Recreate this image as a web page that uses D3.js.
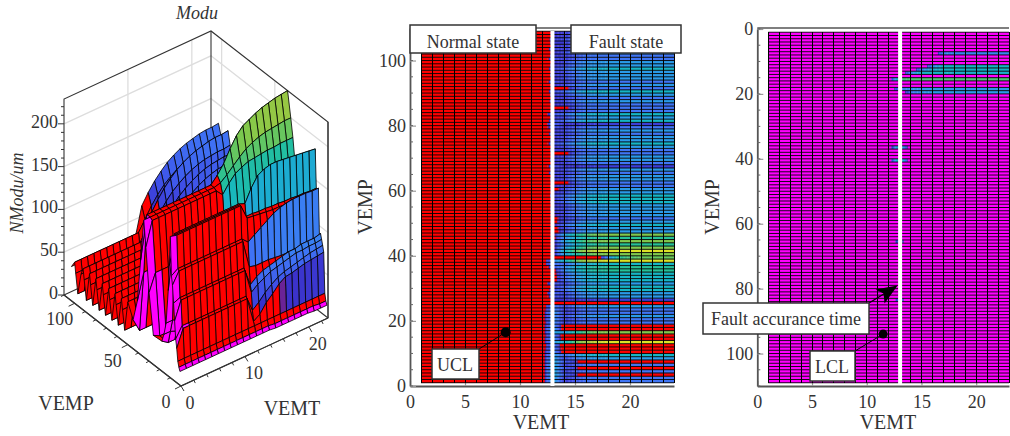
<!DOCTYPE html>
<html>
<head>
<meta charset="utf-8">
<script src="https://cdn.jsdelivr.net/npm/d3@7"></script>
<style>
  body { margin: 0; background: #fff; }
  svg { display: block; font-family: "Liberation Serif", serif; }
  text { fill: #333; }
</style>
</head>
<body>
<div id="chart"></div>
<script>
// ---- colour stops, shared by all three panels
const colorDomain = [0, 8, 10, 42, 45, 60, 80, 105, 135, 165, 195, 225, 250];
const colorRange = ["#ff00ff", "#ff00ff", "#ff0000", "#ff0000", "#3a2fc8", "#3f50e8", "#3f75f5", "#2a9ae8", "#15b5c5", "#25c098", "#78c850", "#a8c83c", "#e8e820"];

// ---- middle panel: one value per column for every kind of row
const vemtMid = [1,2,3,4,5,6,7,8,9,10,11,12,13,14,15,16,17,18,19,20,21,22,23,24];
const midA = [20,20,20,20,20,20,20,20,20,20,20,20,45,50,62,78,80,80,80,80,80,80,80,80];
const midB = [20,20,20,20,20,20,20,20,20,20,20,20,45,55,80,98,102,105,105,105,105,105,105,105];
const midC = [20,20,20,20,20,20,20,20,20,20,20,20,45,70,100,125,132,135,135,135,135,135,135,135];
const midD = [20,20,20,20,20,20,20,20,20,20,20,20,60,90,125,150,160,165,165,165,165,165,165,165];
const midE = [20,20,20,20,20,20,20,20,20,20,20,20,70,110,150,180,195,200,200,200,200,200,200,200];
const midF = [20,20,20,20,20,20,20,20,20,20,20,20,70,130,180,220,235,245,245,245,245,245,245,245];
const midK = [20,20,20,20,20,20,20,20,20,20,20,20,45,46,48,50,52,52,52,52,52,52,52,52];
const midM = [20,20,20,20,20,20,20,20,20,20,20,20,60,62,50,20,20,20,20,20,20,20,20,20];
const midR = [20,20,20,20,20,20,20,20,20,20,20,20,20,20,20,20,20,20,20,20,20,20,20,20];
const midT = [20,20,20,20,20,20,20,20,20,20,20,20,20,30,62,78,80,80,80,80,80,80,80,80];
const midU = [20,20,20,20,20,20,20,20,20,20,20,20,20,20,20,20,20,90,165,180,190,190,190,190];
const midKinds = {a: midA, b: midB, c: midC, d: midD, e: midE, f: midF, k: midK, m: midM, r: midR, t: midT, u: midU};

// row 1 first, up to row 109
const midRowKinds = ("aamamambcr" + "rrfrrerraa" + "baabrkbbcc" + "bcccddcfue" + "fededebbcb" +
                     "abbbbcccbb" + "atbbabkabb" + "tabcbbabak" + "cbcatababc" + "tbabbbcbba" + "abaaabaaa").split("");
// value just before the white line, this makes the wavy red edge
const midEdge = [120,125,130,130,125,130,125,120,110,100,95,90,100,105,95,110,115,100,95,105,
                 100,110,95,90,30,46,60,70,55,48,65,30,30,32,30,60,80,90,30,35,
                 38,30,36,40,32,36,30,34,40,36,38,42,46,50,44,48,42,52,46,30,
                 48,30,50,44,56,48,60,46,52,44,30,50,46,60,50,44,56,48,62,70,
                 58,50,64,48,30,46,54,46,50,58,30,48,60,46,52,48,56,50,46,60,
                 52,48,56,46,50,54,46,48,50];

// ---- right panel: all magenta except a few rows
const vemtRight = [1,2,3,4,5,6,7,8,9,10,11,12,13,14,15,16,17,18,19,20,21,22,23];
const rightFlat = [0,0,0,0,0,0,0,0,0,0,0,0,0,0,0,0,0,0,0,0,0,0,0];
const rightRows = [7, 11, 12, 13, 15, 18, 19, 36, 40, 65, 83];
const rightValues = [
  [0,0,0,0,0,0,0,0,0,0,0,0,0,0,0,0,85,90,90,90,90,90,90],
  [0,0,0,0,0,0,0,0,0,0,0,0,0,0,0,90,135,135,135,135,135,135,135],
  [0,0,0,0,0,0,0,0,0,0,0,0,0,0,90,125,135,135,135,135,135,135,135],
  [0,0,0,0,0,0,0,0,0,0,0,0,0,90,135,135,135,130,130,130,130,130,130],
  [0,0,0,0,0,0,0,0,0,0,0,0,175,180,180,180,180,180,180,180,180,180,180],
  [0,0,0,0,0,0,0,0,0,0,0,0,80,100,105,105,105,105,105,105,105,105,105],
  [0,0,0,0,0,0,0,0,0,0,0,0,0,80,100,105,105,105,105,105,105,105,105],
  [0,0,0,0,0,0,0,0,0,0,0,0,150,0,0,0,0,0,0,0,0,0,0],
  [0,0,0,0,0,0,0,0,0,0,0,0,170,0,0,0,0,0,0,0,0,0,0],
  [0,0,0,0,0,0,0,0,0,0,0,0,70,0,0,0,0,0,0,0,0,0,0],
  [0,0,0,0,0,0,0,0,0,0,0,0,70,0,0,0,0,0,0,0,0,0,0]
];

// ---- left panel: surface heights, row by row (VEMT 0..23)
const zFront1 = [16,16,16,16,16,16,16,16,16,16,16,16,16,16,16,15,15,15,15,15,15,14,14,14];
const zFront2 = [20,20,20,20,20,20,20,20,20,20,20,20,20,20,20,19,19,19,19,19,19,19,18,18];
const zFront3 = [26,26,26,26,26,26,26,26,26,26,26,26,26,26,26,26,26,26,26,26,26,26,26,26];
const zStep4 = [40,60,60,60,60,60,60,60,60,60,60,60,30,35,45,52,60,65,66,68,70,71,72,73];
const zStep5 = [50,62,62,62,62,62,62,62,62,62,62,62,42,48,56,62,67,70,72,74,76,78,79,80];
const zStep6 = [70,91,91,91,91,91,91,91,91,91,91,91,62,68,72,76,78,80,82,84,84,85,85,86];
const zStep7 = [90,93,93,93,93,93,93,93,93,93,93,93,70,76,80,82,84,86,88,88,90,90,90,92];
const zStep8 = [110,123,123,123,123,123,123,123,123,123,123,123,90,88,88,88,87,86,86,86,85,85,85,85];
const zStep9 = [120,125,125,125,125,125,125,125,125,125,125,125,118,123,128,133,138,141,143,144,144,144,143,143];
const zRidge10 = [165,163,163,163,163,163,163,163,163,163,163,163,145,144,143,142,141,141,140,140,140,140,140,140];
const zRidge11 = [130,163,163,163,163,163,163,163,163,163,163,163,146,146,145,145,144,144,143,143,142,142,141,141];
const zRidge12 = [100,163,163,163,163,163,163,163,163,163,163,163,160,175,186,190,192,192,191,190,189,188,187,186];
const zFall14 = [60,60,58,58,58,58,58,58,58,58,58,58,100,120,130,135,138,138,138,138,138,138,138,138];
const zFall16 = [45,45,42,42,42,42,42,42,42,42,42,42,80,100,110,116,118,120,120,120,120,120,120,120];
const zValley18 = [35,30,30,30,30,30,30,30,30,30,30,30,60,80,90,96,100,102,102,102,102,102,102,102];
const zValley26 = [34,30,30,30,30,30,30,30,30,30,30,30,70,90,100,105,110,112,112,112,112,112,112,112];
const zRise30 = [80,100,100,100,100,100,100,100,100,100,100,100,100,115,125,130,134,136,138,138,138,138,138,138];
const zRidge33 = [130,158,158,158,158,158,158,158,158,158,158,158,150,160,168,172,175,176,177,178,178,179,179,179];
const zRidge35 = [160,160,160,160,160,160,160,160,160,160,160,160,162,168,175,182,188,192,195,197,198,199,200,200];
const zRidge38 = [110,160,160,160,160,160,160,160,160,160,160,160,168,178,192,204,212,216,220,223,225,227,228,229];
const zDrop41 = [60,90,90,90,90,90,90,90,90,90,90,90,90,100,108,114,118,121,123,125,126,127,128,128];
const zValley45 = [34,18,18,18,18,18,18,18,18,18,18,18,50,62,72,80,85,90,92,94,95,96,96,96];
const zRidge50 = [50,50,50,50,50,50,50,50,50,50,50,50,68,80,90,98,105,110,113,115,117,118,119,120];
const zValley = [14,14,14,14,14,14,14,14,14,14,14,30,40,50,58,65,70,74,77,79,80,81,81,82];
const zMid = [36,36,36,36,36,36,36,36,36,36,36,48,58,68,76,82,88,91,94,96,97,98,98,99];
const zRidge = [48,48,48,48,48,48,48,48,48,48,48,60,72,82,90,96,101,105,108,110,111,112,112,113];
const zRidgeBlue = [40,40,40,40,40,40,40,40,40,40,40,73,85,95,103,110,115,119,122,124,126,127,127,128];

const surfaceV = [1,2,3,4,5,6,7,8,9,10,11,12,14,16,18,26,30,33,35,38,41,45,50,53,55,56,59,61,62,65,67,68,71,73,74,77,79,80,83,85,86,89,91,92,94,97,99,100,103];
const surfaceZ = [zFront1,zFront2,zFront3,zStep4,zStep5,zStep6,zStep7,zStep8,zStep9,zRidge10,zRidge11,zRidge12,zFall14,zFall16,zValley18,zValley26,zRise30,zRidge33,zRidge35,zRidge38,zDrop41,zValley45,zRidge50,
  zValley,zMid,zRidge,zValley,zMid,zRidge,zValley,zMid,zRidge,zValley,zMid,zRidge,zValley,zMid,zRidge,zValley,zMid,zRidge,zValley,zMid,zRidge,zRidgeBlue,zValley,zMid,zRidge,zRidgeBlue];
const redTailRows = [3, 8, 10, 11];
const coolRows = [9, 10, 11, 12];
const spikeRows = [4, 5, 6, 7, 8, 9, 10, 11, 12, 14, 16, 26, 30, 33, 35, 38, 41];

// ---- axis ticks
const midYTicks = [0,20,40,60,80,100];
const rightYTicks = [0,20,40,60,80,100];
const heatXTicks = [0,5,10,15,20];
const zTicks = [0,50,100,150,200];
const uclPoint = [8.7, 16.5];
const lclPoint = [11.5, 94];
const arrowTip = [13, 79];

let svg = d3.select("#chart").append("svg").attr("width", 1010).attr("height", 436);
let color = d3.scaleLinear().domain(colorDomain).range(colorRange).clamp(true);
// right panel never passes through the red part of the map
let colorRight = v => v < 42 ? "#ff00ff" : color(v);

// one row of the heatmap, shaded between columns, neighbours of same colour get merged
function rowRuns(values, xs, x, colorOf) {
  let runs = [];
  for (let i = 0; i < values.length - 1; i++) {
    let shade = d3.interpolateNumber(values[i], values[i + 1]);
    let steps = values[i] == values[i + 1] ? 1 : 8;
    for (let s = 0; s < steps; s++) {
      let c = colorOf(shade((s + 0.5) / steps));
      let x0 = x(xs[i]) + (x(xs[i + 1]) - x(xs[i])) * s / steps;
      let x1 = x(xs[i]) + (x(xs[i + 1]) - x(xs[i])) * (s + 1) / steps;
      if (runs.length && runs[runs.length - 1].c == c) runs[runs.length - 1].x1 = x1;
      else runs.push({x0: x0, x1: x1, c: c});
    }
  }
  return runs;
}

function heatmap(g, rows, xs, x, y, colorOf) {
  rows.forEach(function (row) {
    if (row.r >= 109) return;
    g.append("g").selectAll("rect").data(rowRuns(row.values, xs, x, colorOf)).enter().append("rect")
      .attr("x", d => d.x0)
      .attr("width", d => d.x1 - d.x0 + 0.3)
      .attr("y", Math.min(y(row.r), y(row.r + 1)))
      .attr("height", Math.abs(y(row.r + 1) - y(row.r)) + 0.2)
      .attr("fill", d => d.c);
  });
  // mesh lines
  g.append("g").selectAll("line").data(rows).enter().append("line")
    .attr("x1", x(xs[0])).attr("x2", x(xs[xs.length - 1]))
    .attr("y1", d => y(d.r)).attr("y2", d => y(d.r))
    .attr("stroke", "#000").attr("stroke-width", 0.9);
  g.append("g").attr("shape-rendering", "crispEdges").selectAll("line").data(xs).enter().append("line")
    .attr("x1", d => x(d)).attr("x2", d => x(d))
    .attr("y1", y(rows[0].r)).attr("y2", y(rows[rows.length - 1].r))
    .attr("stroke", "#000").attr("stroke-width", 1);
}

function axes(x, y, yTicks, top, titleX, titleY) {
  let xAxis = svg.append("g").attr("transform", "translate(0," + 386 + ")")
    .call(d3.axisBottom(x).tickValues(heatXTicks).tickSize(-5).tickSizeOuter(0).tickPadding(9));
  let yAxis = svg.append("g").attr("transform", "translate(" + x(0) + ",0)")
    .call(d3.axisLeft(y).tickValues(yTicks).tickSize(-6).tickSizeOuter(0).tickPadding(4));
  // minor ticks
  svg.append("g").selectAll("line").data(d3.ticks(y.domain()[0], y.domain()[1], 22)).enter().append("line")
    .attr("x1", x(0)).attr("x2", x(0) + 3)
    .attr("y1", d => y(d)).attr("y2", d => y(d))
    .attr("stroke", "#666");
  [xAxis, yAxis].forEach(function (a) {
    a.selectAll("text").style("font-size", "18px").style("font-family", "Liberation Serif");
    a.selectAll(".tick line").attr("stroke", "#999").attr("stroke-width", 1.2);
    a.select(".domain").attr("stroke", "#555").attr("stroke-width", 1.8);
  });
  svg.append("line").attr("x1", x(0)).attr("x2", x.range()[1])
    .attr("y1", top).attr("y2", top).attr("stroke", "#555").attr("stroke-width", 1.5);
  svg.append("text").attr("x", titleX).attr("y", 429).attr("text-anchor", "middle")
    .style("font-size", "20px").text("VEMT");
  svg.append("text").attr("transform", "translate(" + titleY + ",207) rotate(-90)")
    .attr("text-anchor", "middle").style("font-size", "20px").text("VEMP");
}

function labelBox(x0, y0, x1, y1, label, tx, ty) {
  svg.append("rect").attr("x", x0).attr("y", y0).attr("width", x1 - x0).attr("height", y1 - y0)
    .attr("fill", "#fff").attr("stroke", "#333").attr("stroke-width", 1.5);
  svg.append("text").attr("x", tx).attr("y", ty).attr("text-anchor", "middle")
    .style("font-size", "18px").text(label);
}

// ---------- middle panel
let xMid = d3.scaleLinear().domain([0, 24]).range([410, 674]);
let yMid = d3.scaleLinear().domain([0, 110]).range([386, 28]);
let midData = midRowKinds.map(function (k, i) {
  let v = midKinds[k].slice();
  v[12] = midEdge[i];
  return {r: i + 1, values: v};
});
axes(xMid, yMid, midYTicks, 28, 541, 372);
heatmap(svg.append("g"), midData, vemtMid, xMid, yMid, color);
svg.append("line").attr("x1", xMid(12.95)).attr("x2", xMid(12.95)).attr("y1", 31).attr("y2", 386)
  .attr("stroke", "#fff").attr("stroke-width", 4);
labelBox(410, 25, 536, 53, "Normal state", 473, 48);
labelBox(571, 25, 681, 53, "Fault state", 626, 48);
svg.append("line").attr("x1", 479).attr("y1", 349).attr("x2", xMid(uclPoint[0])).attr("y2", yMid(uclPoint[1]))
  .attr("stroke", "#000").attr("stroke-width", 1);
svg.append("circle").attr("cx", xMid(uclPoint[0])).attr("cy", yMid(uclPoint[1])).attr("r", 5).attr("fill", "#000");
labelBox(432, 349, 479, 379, "UCL", 455, 371);

// ---------- right panel
let xRight = d3.scaleLinear().domain([0, 23]).range([757.3, 1009]);
let yRight = d3.scaleLinear().domain([0, 110]).range([29, 386]);
let rightData = d3.range(1, 110).map(function (r) {
  let at = rightRows.indexOf(r);
  return {r: r, values: at >= 0 ? rightValues[at] : rightFlat};
});
axes(xRight, yRight, rightYTicks, 28, 888, 719);
heatmap(svg.append("g"), rightData, vemtRight, xRight, yRight, colorRight);
svg.append("line").attr("x1", xRight(13.05)).attr("x2", xRight(13.05)).attr("y1", 29).attr("y2", 384)
  .attr("stroke", "#fff").attr("stroke-width", 4);
// arrow to the fault time
let tipX = xRight(arrowTip[0]) - 2, tipY = yRight(arrowTip[1]);
svg.append("line").attr("x1", 869).attr("y1", 303).attr("x2", tipX - 8).attr("y2", tipY + 5)
  .attr("stroke", "#000").attr("stroke-width", 1.2);
svg.append("path").attr("fill", "#000")
  .attr("d", "M" + tipX + "," + tipY + "L" + (tipX - 22) + "," + (tipY + 4) + "L" + (tipX - 14) + "," + (tipY + 8) +
             "L" + (tipX - 13) + "," + (tipY + 18) + "Z");
svg.append("line").attr("x1", 855).attr("y1", 351).attr("x2", xRight(lclPoint[0])).attr("y2", yRight(lclPoint[1]))
  .attr("stroke", "#000").attr("stroke-width", 1);
svg.append("circle").attr("cx", xRight(lclPoint[0])).attr("cy", yRight(lclPoint[1])).attr("r", 4.5).attr("fill", "#000");
labelBox(703, 303, 869, 334, "Fault accurance time", 786, 325);
labelBox(810, 351, 855, 381, "LCL", 832, 373);

// ---------- left panel, oblique projection of the box
let pxT = d3.scaleLinear().domain([0, 23]).range([0, 147]);
let pyT = d3.scaleLinear().domain([0, 23]).range([0, -68]);
let pxV = d3.scaleLinear().domain([0, 110]).range([0, -117]);
let pyV = d3.scaleLinear().domain([0, 110]).range([0, -91]);
let pz = d3.scaleLinear().domain([0, 229]).range([0, -196]);
function proj(t, v, z) {
  return [181 + pxT(t) + pxV(v), 386 + pyT(t) + pyV(v) + pz(z)];
}
let path3 = d3.line();
let box = svg.append("g").attr("fill", "none");

// gray grid on the two back walls
zTicks.slice(1).forEach(function (z) {
  box.append("path").attr("d", path3([proj(0, 110, z), proj(23, 110, z), proj(23, 0, z)]))
    .attr("stroke", "#ddd").attr("stroke-width", 1.3);
});
[10, 20].forEach(function (t) {
  box.append("path").attr("d", path3([proj(t, 110, 0), proj(t, 110, 229)])).attr("stroke", "#ddd").attr("stroke-width", 1.3);
});
[50, 100].forEach(function (v) {
  box.append("path").attr("d", path3([proj(23, v, 0), proj(23, v, 229)])).attr("stroke", "#ddd").attr("stroke-width", 1.3);
});
// box outline
[[[0, 110, 0], [0, 110, 229], [23, 110, 229], [23, 0, 229], [23, 0, 0], [0, 0, 0], [0, 110, 0]],
 [[23, 110, 0], [23, 110, 229]],
 [[0, 110, 0], [23, 110, 0], [23, 0, 0]]].forEach(function (edge) {
  box.append("path").attr("d", path3(edge.map(p => proj(p[0], p[1], p[2]))))
    .attr("stroke", "#333").attr("stroke-width", 1.1);
});

// surface quads, back rows first and high VEMT first
let quads = [];
for (let i = surfaceV.length - 2; i >= 0; i--) {
  for (let t = 22; t >= 0; t--) {
    let front = surfaceZ[i], back = surfaceZ[i + 1];
    let avg = (front[t] + front[t + 1] + back[t] + back[t + 1]) / 4;
    let inSpike = spikeRows.indexOf(surfaceV[i]) >= 0;
    let c;
    if (t == 0 && inSpike) c = "#ff00ff";
    else if (t == 1 && inSpike && avg < 75) c = "#ff00ff";
    else if (avg < 22) c = "#ff00ff";
    else if (t <= 11 || redTailRows.indexOf(surfaceV[i + 1]) >= 0) c = "#ff0000";
    else if (coolRows.indexOf(surfaceV[i + 1]) >= 0) c = color(avg * 0.75);
    else if (surfaceV[i + 1] >= 45) c = color(avg * 0.65);
    else c = color(avg);
    quads.push({
      pts: [proj(t, surfaceV[i], front[t]), proj(t + 1, surfaceV[i], front[t + 1]),
            proj(t + 1, surfaceV[i + 1], back[t + 1]), proj(t, surfaceV[i + 1], back[t])],
      c: c
    });
  }
}
svg.append("g").selectAll("path").data(quads).enter().append("path")
  .attr("d", d => path3(d.pts) + "Z")
  .attr("fill", d => d.c)
  .attr("stroke", "#000").attr("stroke-width", 0.8).attr("stroke-linejoin", "round");

// front edges come after the surface
let frontAxes = svg.append("g");
[[[0, 0, 0], [23, 0, 0]], [[0, 0, 0], [0, 110, 0]], [[23, 0, 0], [23, 0, 229]]].forEach(function (edge) {
  frontAxes.append("path").attr("d", path3(edge.map(p => proj(p[0], p[1], p[2]))))
    .attr("stroke", "#333").attr("stroke-width", 1.1).attr("fill", "none");
});
// ticks on the three axes
frontAxes.selectAll(".zt").data(d3.range(0, 230, 10)).enter().append("line").attr("class", "zt")
  .attr("x1", d => proj(0, 110, d)[0]).attr("x2", d => proj(0, 110, d)[0] - (d % 50 == 0 ? 6 : 3))
  .attr("y1", d => proj(0, 110, d)[1]).attr("y2", d => proj(0, 110, d)[1])
  .attr("stroke", "#333");
frontAxes.selectAll(".vt").data(d3.range(0, 111, 10)).enter().append("line").attr("class", "vt")
  .attr("x1", d => proj(0, d, 0)[0]).attr("x2", d => proj(0, d, 0)[0] + (d % 50 == 0 ? -6 : -3))
  .attr("y1", d => proj(0, d, 0)[1]).attr("y2", d => proj(0, d, 0)[1] + (d % 50 == 0 ? 3 : 1.5))
  .attr("stroke", "#333");
frontAxes.selectAll(".tt").data(d3.range(0, 24, 2)).enter().append("line").attr("class", "tt")
  .attr("x1", d => proj(d, 0, 0)[0]).attr("x2", d => proj(d, 0, 0)[0] + (d % 10 == 0 ? 3 : 1.5))
  .attr("y1", d => proj(d, 0, 0)[1]).attr("y2", d => proj(d, 0, 0)[1] + (d % 10 == 0 ? 5 : 3))
  .attr("stroke", "#333");

// tick labels of the cube
zTicks.forEach(function (z) {
  let p = proj(0, 110, z);
  svg.append("text").attr("x", p[0] - 6).attr("y", p[1] + 4).attr("text-anchor", "end")
    .style("font-size", "18px").text(z);
});
[0, 50, 100].forEach(function (v) {
  let p = proj(0, v, 0);
  svg.append("text").attr("x", p[0] - 15).attr("y", p[1] + 22).attr("text-anchor", "middle")
    .style("font-size", "18px").text(v);
});
[0, 10, 20].forEach(function (t) {
  let p = proj(t, 0, 0);
  svg.append("text").attr("x", p[0] + 9).attr("y", p[1] + 23).attr("text-anchor", "middle")
    .style("font-size", "18px").text(t);
});
svg.append("text").attr("x", 66).attr("y", 410).attr("text-anchor", "middle").style("font-size", "20px").text("VEMP");
svg.append("text").attr("x", 292).attr("y", 415).attr("text-anchor", "middle").style("font-size", "20px").text("VEMT");
svg.append("text").attr("x", 197).attr("y", 19).attr("text-anchor", "middle")
  .style("font-size", "18px").style("font-style", "italic").text("Modu");
svg.append("text").attr("transform", "translate(23,193) rotate(-90)").attr("text-anchor", "middle")
  .style("font-size", "18px").style("font-style", "italic").text("NModu/um");
</script>
</body>
</html>
